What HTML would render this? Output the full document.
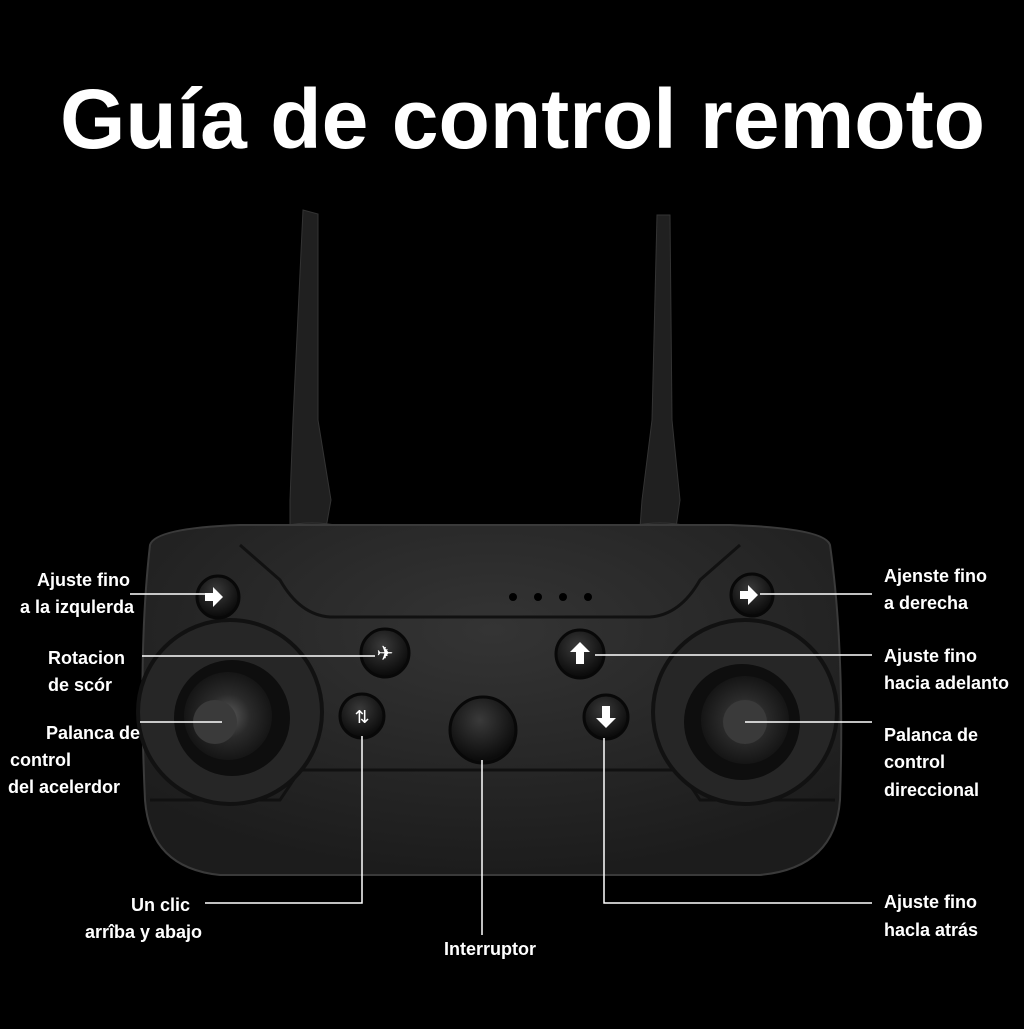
<!DOCTYPE html>
<html><head><style>
html,body{margin:0;padding:0;background:#000;}
body{width:1024px;height:1024px;overflow:hidden;}
text{font-family:"Liberation Sans",sans-serif;fill:#fff;}
</style></head><body>
<svg width="1024" height="1024" viewBox="0 0 1024 1024" xmlns="http://www.w3.org/2000/svg">
<defs>
<radialGradient id="bd" cx="50%" cy="30%" r="70%"><stop offset="0" stop-color="#343434"/><stop offset="1" stop-color="#1c1c1c"/></radialGradient>
<radialGradient id="btn" cx="45%" cy="35%" r="60%"><stop offset="0" stop-color="#3a3a3a"/><stop offset="1" stop-color="#0c0c0c"/></radialGradient>
<radialGradient id="stk" cx="50%" cy="50%" r="50%"><stop offset="0" stop-color="#5a5a5a"/><stop offset="0.5" stop-color="#2a2a2a"/><stop offset="1" stop-color="#151515"/></radialGradient>
</defs>
<rect width="1024" height="1024" fill="#000"/>
<text x="60" y="148" font-size="84" font-weight="bold" textLength="925" lengthAdjust="spacingAndGlyphs">Guía de control remoto</text>
<polygon points="303,210 318,214 318,420 331,500 326,528 290,528 290,500 293,420" fill="#202020" stroke="#333" stroke-width="1"/>
<polygon points="657,215 670,215 672,420 680,500 676,528 640,528 642,500 652,420" fill="#202020" stroke="#333" stroke-width="1"/>
<ellipse cx="312" cy="532" rx="36" ry="9" fill="#1a1a1a" stroke="#333"/>
<ellipse cx="660" cy="532" rx="36" ry="9" fill="#1a1a1a" stroke="#333"/>
<path d="M150,545 Q155,528 240,525 L730,525 Q825,528 830,545 Q845,650 840,800 Q835,868 760,875 L220,875 Q150,868 145,800 Q138,650 150,545 Z" fill="url(#bd)" stroke="#3a3a3a" stroke-width="2"/>
<path d="M240,545 L280,580 Q300,615 330,617 L650,617 Q680,615 700,580 L740,545" fill="none" stroke="#111" stroke-width="3"/>
<path d="M150,800 L280,800 L300,770 L680,770 L700,800 L835,800" fill="none" stroke="#111" stroke-width="3"/>
<circle cx="513" cy="597" r="4" fill="#000"/><circle cx="538" cy="597" r="4" fill="#000"/><circle cx="563" cy="597" r="4" fill="#000"/><circle cx="588" cy="597" r="4" fill="#000"/>
<circle cx="230" cy="712" r="92" fill="#262626" stroke="#111" stroke-width="4"/>
<circle cx="745" cy="712" r="92" fill="#262626" stroke="#111" stroke-width="4"/>
<circle cx="232" cy="718" r="58" fill="#0e0e0e"/>
<circle cx="742" cy="722" r="58" fill="#0e0e0e"/>
<circle cx="228" cy="716" r="44" fill="url(#stk)"/>
<circle cx="745" cy="720" r="44" fill="url(#stk)"/>
<circle cx="215" cy="722" r="22" fill="#3a3a3a"/>
<circle cx="745" cy="722" r="22" fill="#3a3a3a"/>
<g fill="url(#btn)" stroke="#080808" stroke-width="3">
<circle cx="218" cy="597" r="21"/><circle cx="752" cy="595" r="21"/>
<circle cx="385" cy="653" r="24"/><circle cx="580" cy="654" r="24"/>
<circle cx="362" cy="716" r="22"/><circle cx="606" cy="717" r="22"/>
<ellipse cx="483" cy="730" rx="33" ry="33"/>
</g>
<g fill="#fff">
<path d="M205,593 h8 v-6 l10,10 -10,10 v-6 h-8 z"/>
<path d="M740,591 h8 v-6 l10,10 -10,10 v-6 h-8 z"/>
<path d="M580,642 l-10,10 h6 v12 h8 v-12 h6 z"/>
<path d="M606,728 l-10,-10 h6 v-12 h8 v12 h6 z"/>
</g>
<text x="385" y="660" font-size="20" text-anchor="middle">✈</text>
<text x="362" y="723" font-size="18" text-anchor="middle">⇅</text>
<g stroke="#fff" stroke-width="1.5" fill="none">
<line x1="130" y1="594" x2="205" y2="594"/>
<line x1="760" y1="594" x2="872" y2="594"/>
<line x1="142" y1="656" x2="375" y2="656"/>
<line x1="595" y1="655" x2="872" y2="655"/>
<line x1="140" y1="722" x2="222" y2="722"/>
<line x1="745" y1="722" x2="872" y2="722"/>
<polyline points="205,903 362,903 362,736"/>
<line x1="482" y1="760" x2="482" y2="935"/>
<polyline points="604,738 604,903 872,903"/>
</g>
<g font-size="18" font-weight="bold">
<text x="130" y="586" text-anchor="end">Ajuste fino</text>
<text x="134" y="613" text-anchor="end">a la izqulerda</text>
<text x="48" y="664">Rotacion</text>
<text x="48" y="691">de scór</text>
<text x="140" y="739" text-anchor="end">Palanca de</text>
<text x="10" y="766">control</text>
<text x="8" y="793">del acelerdor</text>
<text x="190" y="911" text-anchor="end">Un clic</text>
<text x="202" y="938" text-anchor="end">arrîba y abajo</text>
<text x="490" y="955" text-anchor="middle">Interruptor</text>
<text x="884" y="582">Ajenste fino</text>
<text x="884" y="609">a derecha</text>
<text x="884" y="662">Ajuste fino</text>
<text x="884" y="689">hacia adelanto</text>
<text x="884" y="741">Palanca de</text>
<text x="884" y="768">control</text>
<text x="884" y="796">direccional</text>
<text x="884" y="908">Ajuste fino</text>
<text x="884" y="936">hacla atrás</text>
</g>
</svg>
</body></html>
